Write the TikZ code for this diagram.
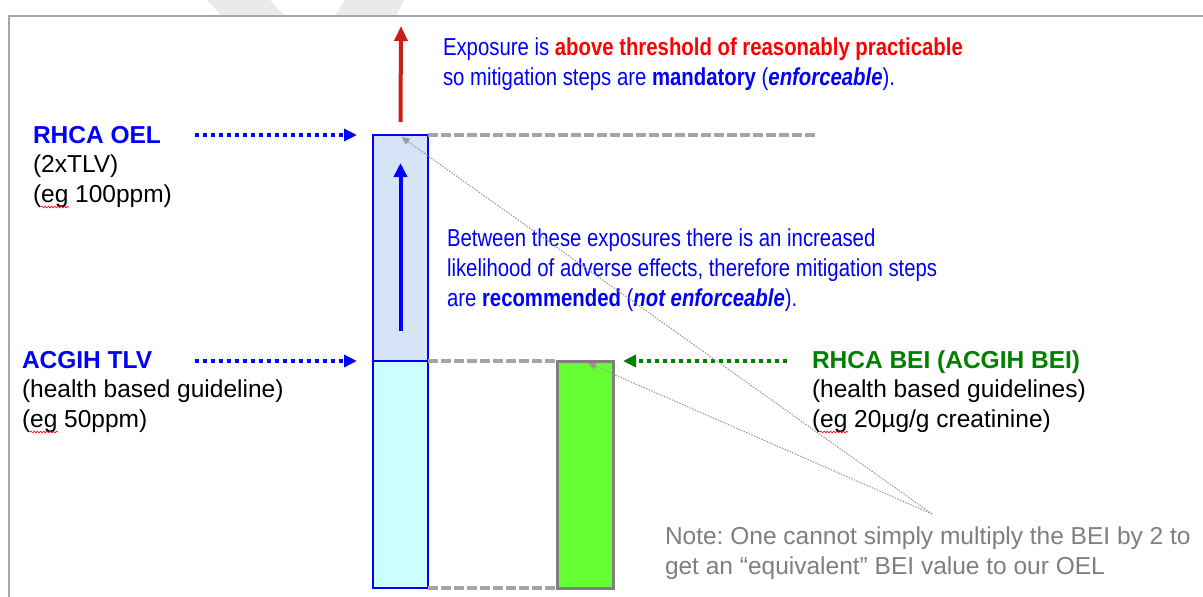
\documentclass[tikz,border=0pt]{standalone}
\usepackage{fontspec}
\setmainfont{Liberation Sans}
\newfontfamily\narrowsf[FakeStretch=0.83]{Liberation Sans}
\usetikzlibrary{arrows.meta,decorations.pathmorphing}
\definecolor{tblue}{HTML}{0000FF}
\definecolor{tred}{HTML}{FF0000}
\definecolor{arrred}{HTML}{C82018}
\definecolor{tgreen}{HTML}{008000}
\definecolor{notegrey}{HTML}{7F7F7F}
\definecolor{dashgrey}{HTML}{A8A2A2}
\definecolor{framegrey}{HTML}{A6A6A6}
\definecolor{wmgrey}{HTML}{EAEAEA}
\definecolor{upperfill}{HTML}{D6E4F8}
\definecolor{lowerfill}{HTML}{CCFFFF}
\definecolor{beifill}{HTML}{66FF33}
\definecolor{beiborder}{HTML}{808080}
\tikzset{
  lab/.style={anchor=base west, inner sep=0pt, outer sep=0pt, font=\fontsize{24.5}{29.5}\selectfont},
  narrowtxt/.style={anchor=base west, inner sep=0pt, outer sep=0pt, text=tblue, font=\narrowsf\fontsize{24.5}{29.5}\selectfont},
  barbox/.style={anchor=north west, inner sep=0pt, outer sep=0pt, minimum width=55pt},
  greydash/.style={draw=dashgrey, line width=3.4pt, dash pattern=on 9.5pt off 3.5pt},
  bluedot/.style={draw=tblue, line width=4pt, dash pattern=on 4pt off 4pt, -{Triangle[length=13pt,width=12pt]}},
  greendot/.style={draw=tgreen, line width=4pt, dash pattern=on 4pt off 4pt, -{Triangle[length=13pt,width=12pt]}},
  pointer/.style={draw=notegrey!80, line width=1.1pt, dash pattern=on 1.4pt off 1.4pt, -{Triangle[length=8pt,width=7pt]}},
  squig/.style={draw=tred, line width=0.6pt, decorate, decoration={snake, amplitude=0.9pt, segment length=3.2pt}}
}
\frenchspacing
\begin{document}
\begin{tikzpicture}[x=1pt,y=-1pt]
\useasboundingbox (0,0) rectangle (1203,597);
\fill[white] (0,0) rectangle (1203,597);
% watermark fragment
\fill[wmgrey] (207,0) -- (270,0) -- (285,16) -- (222,16) -- cycle;
\fill[wmgrey] (345,0) -- (404,0) -- (396,16) -- (335,16) -- cycle;
% frame
\draw[framegrey, line width=2pt] (1204,16) -- (9,16) -- (9,598);

% coordinates for free ends
\coordinate (dashend) at (818,135);
\coordinate (redtip) at (401,26);
\coordinate (oelarr) at (195,135);
\coordinate (tlvarr) at (195,361);
\coordinate (beiarr) at (787,361);
\coordinate (notept) at (932,514);

% bars
\node[barbox, fill=upperfill, draw=tblue, line width=2.5pt, minimum height=226pt] (upper) at (373,135) {};
\node[barbox, fill=lowerfill, draw=tblue, line width=2.5pt, minimum height=227pt] (lower) at (373,361) {};
\node[barbox, fill=beifill, draw=beiborder, line width=3pt, minimum width=56pt, minimum height=227pt] (bei) at (557,361) {};
\draw[tblue, line width=2.5pt] (upper.south west) -- (upper.south east);

% dashed level lines
\draw[greydash] (upper.north east) -- (dashend);
\draw[greydash] (lower.north east) -- (bei.north west);
\draw[greydash] (lower.south east) -- (bei.south west);

% arrows
\draw[draw=arrred, line width=4pt, -{Triangle[length=15pt,width=13pt]}] ([yshift=13pt]upper.north) -- (redtip);
\draw[draw=tblue, line width=4pt, -{Triangle[length=14pt,width=13pt]}] ([yshift=30pt]upper.south) -- ([yshift=-28pt]upper.north);
\draw[bluedot] (oelarr) -- ([xshift=-16pt]upper.north west);
\draw[bluedot] (tlvarr) -- ([xshift=-16pt]lower.north west);
\draw[greendot] (beiarr) -- ([xshift=10pt]bei.north east);

% top text
\node[narrowtxt] (top1) at (443,55) {Exposure is \textcolor{tred}{\bfseries above threshold of reasonably practicable}};
\node[narrowtxt] (top2) at (443,85) {so mitigation steps are \textbf{mandatory} (\textbf{\textit{enforceable}}).};

% middle text
\node[narrowtxt] (mid1) at (447,246) {Between these exposures there is an increased};
\node[narrowtxt] (mid2) at (447,276) {likelihood of adverse effects, therefore mitigation steps};
\node[narrowtxt] (mid3) at (447,306) {are \textbf{recommended} (\textbf{\textit{not enforceable}}).};

% left labels
\node[lab, text=tblue, font=\bfseries\fontsize{24.5}{29.5}\selectfont] (oel1) at (33,143) {RHCA OEL};
\node[lab] (oel2) at (33,172.5) {(2xTLV)};
\node[lab] (oel3) at (33,202) {(eg 100ppm)};
\node[lab, text=tblue, font=\bfseries\fontsize{24.5}{29.5}\selectfont] (tlv1) at (22,368) {ACGIH TLV};
\node[lab] (tlv2) at (22,397.5) {(health based guideline)};
\node[lab] (tlv3) at (22,427) {(eg 50ppm)};

% BEI labels
\node[lab, text=tgreen, font=\bfseries\fontsize{24.5}{29.5}\selectfont] (bei1) at (812,368) {RHCA BEI (ACGIH BEI)};
\node[lab] (bei2) at (812,397.5) {(health based guidelines)};
\node[lab] (bei3) at (812,427) {(eg 20µg/g creatinine)};

% spell-check squiggles
\draw[squig] ([shift={(8pt,-5pt)}]oel3.base west) -- ++(28,0);
\draw[squig] ([shift={(8pt,-5pt)}]tlv3.base west) -- ++(28,0);
\draw[squig] ([shift={(8pt,-5pt)}]bei3.base west) -- ++(28,0);

% note
\node[lab, text=notegrey] (note1) at (665,544) {Note: One cannot simply multiply the BEI by 2 to};
\node[lab, text=notegrey] (note2) at (665,574) {get an “equivalent” BEI value to our OEL};

% pointer lines
\draw[pointer] (notept) -- ([shift={(1pt,-2pt)}]upper.north);
\draw[pointer] (notept) -- ([shift={(3pt,-2pt)}]bei.north);
\end{tikzpicture}
\end{document}
